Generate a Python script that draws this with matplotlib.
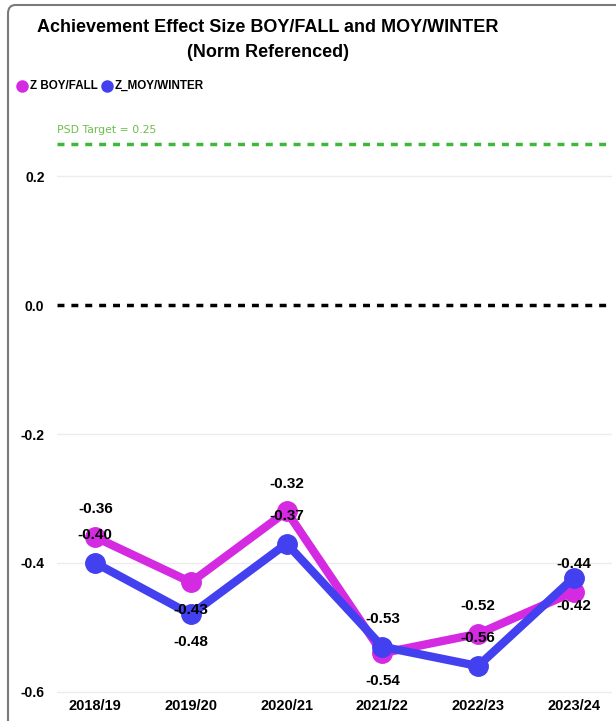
import matplotlib
matplotlib.use("Agg")
import matplotlib.pyplot as plt
from matplotlib.patches import FancyBboxPatch
from matplotlib.lines import Line2D

# data
years = ["2018/19", "2019/20", "2020/21", "2021/22", "2022/23", "2023/24"]
z_boy = [-0.36, -0.43, -0.32, -0.54, -0.51, -0.445]
z_moy = [-0.40, -0.48, -0.37, -0.53, -0.56, -0.423]
boy_labels = ["-0.36", "-0.43", "-0.32", "-0.54", "-0.52", "-0.44"]
moy_labels = ["-0.40", "-0.48", "-0.37", "-0.53", "-0.56", "-0.42"]
# label above (+1) or below (-1) the point
boy_side = [1, -1, 1, -1, 1, 1]
moy_side = [1, -1, 1, 1, 1, -1]
psd_target = 0.25
yticks = [0.2, 0.0, -0.2, -0.4, -0.6]

magenta = "#D42AE2"
blue = "#4340EF"
green = "#3DB83A"

plt.rcParams["font.family"] = ["Liberation Sans", "DejaVu Sans"]

fig = plt.figure(figsize=(6.16, 7.21), dpi=100)
ax = fig.add_axes([0.0925, 0.036, 0.901, 0.809])

xs = list(range(len(years)))

# grid and reference lines
for t in yticks:
    if t != 0:
        ax.axhline(t, color="#ececec", lw=1, zorder=0)
ax.axhline(0, color="black", lw=2.5, ls=(0, (2, 2)), zorder=1)
ax.axhline(psd_target, color=green, lw=2.5, ls=(0, (2, 2)), zorder=1)
ax.text(0.0, psd_target + 0.014, "PSD Target = 0.25", color="#6CBF4A",
        fontsize=7.8, transform=ax.get_yaxis_transform(), ha="left",
        va="bottom", family=["DejaVu Sans"])

ax.plot(xs, z_boy, color=magenta, lw=6, marker="o", ms=14,
        solid_capstyle="round", zorder=3)
ax.plot(xs, z_moy, color=blue, lw=6, marker="o", ms=14,
        solid_capstyle="round", zorder=4)

# data labels
for x, v, lab, s in zip(xs, z_boy, boy_labels, boy_side):
    ax.annotate(lab, (x, v), xytext=(0, 20 * s), textcoords="offset points",
                ha="center", va="center", fontsize=11, fontweight="bold",
                zorder=6)
for x, v, lab, s in zip(xs, z_moy, moy_labels, moy_side):
    ax.annotate(lab, (x, v), xytext=(0, 20 * s), textcoords="offset points",
                ha="center", va="center", fontsize=11, fontweight="bold",
                zorder=6)

ax.set_xlim(-0.4, 5.4)
ax.set_ylim(-0.605, 0.30)
ax.set_xticks(xs)
ax.set_xticklabels(years, fontsize=10.5, fontweight="bold")
ax.set_yticks(yticks)
ax.set_yticklabels(["%.1f" % t for t in yticks], fontsize=10,
                   fontweight="bold")
ax.tick_params(axis="both", length=0)
ax.tick_params(axis="y", pad=9)
ax.tick_params(axis="x", pad=3)
for sp in ax.spines.values():
    sp.set_visible(False)

# title
fig.text(0.435, 0.962, "Achievement Effect Size BOY/FALL and MOY/WINTER",
         ha="center", va="center", fontsize=13, fontweight="bold")
fig.text(0.435, 0.927, "(Norm Referenced)", ha="center", va="center",
         fontsize=13, fontweight="bold")

# legend
fig.add_artist(Line2D([22 / 616], [1 - 86 / 721], marker="o", ms=8,
                      color=magenta, ls="none"))
fig.text(30 / 616, 1 - 86 / 721, "Z BOY/FALL", fontsize=8.4,
         fontweight="bold", va="center", ha="left")
fig.add_artist(Line2D([107 / 616], [1 - 86 / 721], marker="o", ms=8,
                      color=blue, ls="none"))
fig.text(115 / 616, 1 - 86 / 721, "Z_MOY/WINTER", fontsize=8.4,
         fontweight="bold", va="center", ha="left")

# card frame
frame = FancyBboxPatch((8 / 616, -0.1), 1.1, 1.1 - 5 / 721,
                       boxstyle="round,pad=0,rounding_size=0.012",
                       transform=fig.transFigure, fill=False,
                       edgecolor="#7a7a7a", lw=1.5, clip_on=False)
fig.add_artist(frame)

fig.savefig("out.png", dpi=100)
